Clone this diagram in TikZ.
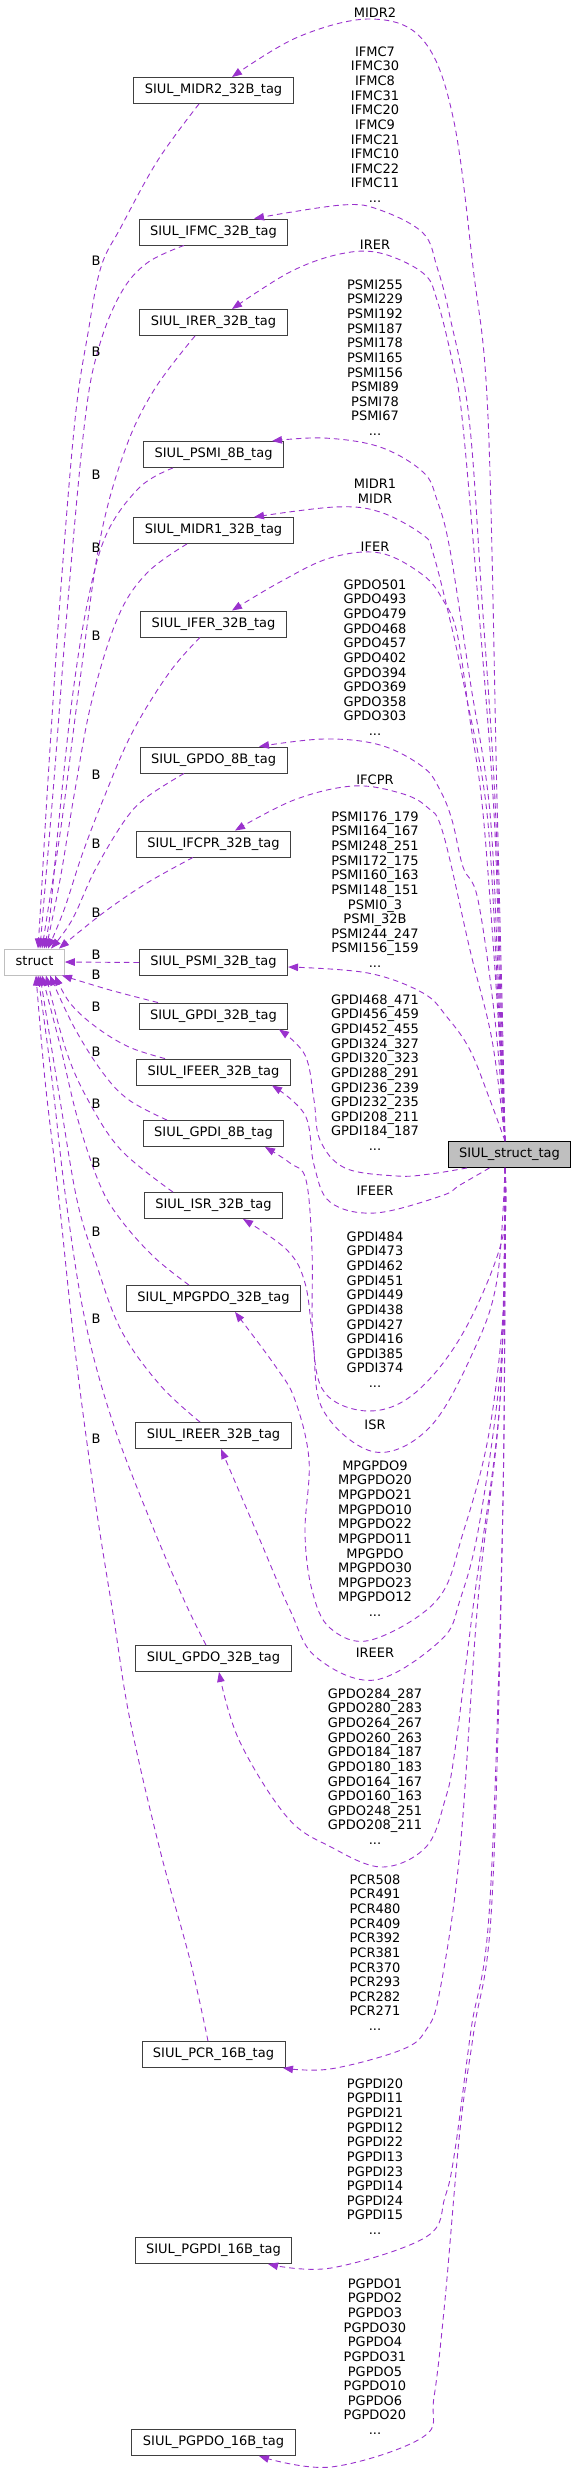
\documentclass[tikz,border=0pt]{standalone}
\usepackage{fontspec}
\setmainfont{DejaVu Sans}
\usetikzlibrary{arrows.meta,calc}
\definecolor{edgec}{HTML}{9A32CD}
\definecolor{boxline}{HTML}{404040}
\definecolor{lightline}{HTML}{BFBFBF}
\definecolor{mainfill}{HTML}{BFBFBF}
\begin{document}
\begin{tikzpicture}[x=1pt,y=-1pt,
  box/.style={draw=boxline,line width=0.9pt,fill=white,inner xsep=11pt,inner ysep=0pt,minimum height=26pt,text height=9.5pt,text depth=3pt,font=\fontsize{13}{14.65}\selectfont},
  structbox/.style={box,draw=lightline},
  mainbox/.style={box,draw=black,fill=mainfill},
  elabel/.style={font=\fontsize{13}{14.65}\selectfont,align=center,inner sep=0pt,anchor=north},
  blabel/.style={font=\fontsize{13}{14.65}\selectfont,inner sep=0pt,text height=9.5pt,text depth=0pt},
  edge/.style={draw=edgec,line width=0.9pt,dash pattern=on 5.5pt off 4pt,-{Triangle[length=10pt,width=7.5pt]}},
  sm/.style={smooth,tension=0.6}]
\useasboundingbox (0,0) rectangle (575,2473);

% nodes
\node[box] (midr2) at (213.5,90.5) {SIUL\_MIDR2\_32B\_tag};
\node[box] (ifmc) at (213.5,232) {SIUL\_IFMC\_32B\_tag};
\node[box] (irer) at (213.5,322.5) {SIUL\_IRER\_32B\_tag};
\node[box] (psmi8) at (213.5,454.5) {SIUL\_PSMI\_8B\_tag};
\node[box] (midr1) at (213.5,530.5) {SIUL\_MIDR1\_32B\_tag};
\node[box] (ifer) at (213.5,624) {SIUL\_IFER\_32B\_tag};
\node[box] (gpdo8) at (213.5,760) {SIUL\_GPDO\_8B\_tag};
\node[box] (ifcpr) at (213.5,844) {SIUL\_IFCPR\_32B\_tag};
\node[box] (psmi32) at (213.5,962.5) {SIUL\_PSMI\_32B\_tag};
\node[box] (gpdi32) at (213.5,1016) {SIUL\_GPDI\_32B\_tag};
\node[box] (ifeer) at (213.5,1072) {SIUL\_IFEER\_32B\_tag};
\node[box] (gpdi8) at (213.5,1133.5) {SIUL\_GPDI\_8B\_tag};
\node[box] (isr) at (213.5,1205.5) {SIUL\_ISR\_32B\_tag};
\node[box] (mpgpdo) at (213.5,1298.5) {SIUL\_MPGPDO\_32B\_tag};
\node[box] (ireer) at (213.5,1435.5) {SIUL\_IREER\_32B\_tag};
\node[box] (gpdo32) at (213.5,1658.5) {SIUL\_GPDO\_32B\_tag};
\node[box] (pcr) at (213.5,2054.5) {SIUL\_PCR\_16B\_tag};
\node[box] (pgpdi) at (213.5,2250.5) {SIUL\_PGPDI\_16B\_tag};
\node[box] (pgpdo) at (213.5,2442.5) {SIUL\_PGPDO\_16B\_tag};
\node[structbox] (struct) at (34.5,962) {struct};
\node[mainbox] (S) at (509.5,1154.5) {SIUL\_struct\_tag};

% edges to struct (B)
\draw[edge] plot[sm] coordinates {([xshift=-14.5pt]midr2.south) (158,160) (121,227) (101,267) (88,333) (75,420) (60,600) (48,780) (41,900) ([xshift=3.5pt]struct.north)};
\draw[edge] plot[sm] coordinates {([xshift=-29.5pt]ifmc.south) (147,263) (121,293) (99,347) (85,420) (68,600) (54,780) (44,900) ([xshift=5.5pt]struct.north)};
\draw[edge] plot[sm] coordinates {([xshift=-18.5pt]irer.south) (154,390) (125,450) (100,540) (80,680) (62,820) (48,910) ([xshift=7.5pt]struct.north)};
\draw[edge] plot[sm] coordinates {([xshift=-40.5pt]psmi8.south) (140,487) (107,533) (88,600) (72,700) (58,830) (50,915) ([xshift=9.5pt]struct.north)};
\draw[edge] plot[sm] coordinates {([xshift=-26.5pt]midr1.south) (147,573) (118,617) (92,700) (75,790) (60,880) ([xshift=11.5pt]struct.north)};
\draw[edge] plot[sm] coordinates {([xshift=-13.5pt]ifer.south) (169,673) (132,733) (103,800) (82,855) (64,910) ([xshift=13.5pt]struct.north)};
\draw[edge] plot[sm] coordinates {([xshift=-29.5pt]gpdo8.south) (147,797) (125,820) (95,870) (72,920) ([xshift=16.5pt]struct.north)};
\draw[edge] plot[sm] coordinates {([xshift=-20.5pt]ifcpr.south) (147,883) (103,913) ([xshift=24.5pt]struct.north)};
\draw[edge] (psmi32.west) -- (struct.east);
\draw[edge] plot[sm] coordinates {([xshift=-55.5pt]gpdi32.north) (110,990) ([xshift=27.5pt]struct.south)};
\draw[edge] plot[sm] coordinates {([xshift=-48.5pt]ifeer.north) (129,1047) (96,1027) (70,1003) ([xshift=20.5pt]struct.south)};
\draw[edge] plot[sm] coordinates {([xshift=-46.5pt]gpdi8.north) (129,1100) (103,1073) (74,1027) ([xshift=15.5pt]struct.south)};
\draw[edge] plot[sm] coordinates {([xshift=-40.5pt]isr.north) (121,1150) (88,1100) (66,1050) ([xshift=11.5pt]struct.south)};
\draw[edge] plot[sm] coordinates {([xshift=-24.5pt]mpgpdo.north) (154,1257) (121,1220) (100,1185) (78,1120) (60,1045) ([xshift=7.5pt]struct.south)};
\draw[edge] plot[sm] coordinates {([xshift=-13.5pt]ireer.north) (160,1385) (121,1330) (95,1260) (77,1200) (60,1100) ([xshift=5.5pt]struct.south)};
\draw[edge] plot[sm] coordinates {([xshift=-7.5pt]gpdo32.north) (184,1600) (150,1520) (112,1420) (85,1320) (66,1200) (52,1080) ([xshift=3.5pt]struct.south)};
\draw[edge] plot[sm] coordinates {([xshift=-5.5pt]pcr.north) (190,1960) (160,1850) (130,1720) (114,1620) (95,1500) (75,1350) (59,1200) (45,1080) ([xshift=1.5pt]struct.south)};

% B labels
\foreach \y [count=\i] in {261,352,475,548,636,775,844,913,955,975,1007,1052,1104,1163,1232,1319,1439}
  \node[blabel] (b\i) at (96,\y) {B};

% edges from SIUL_struct_tag upward
\draw[edge] plot[sm] coordinates {([xshift=-4.5pt]S.north) (502,1000) (497,800) (488,417) (473,267) (453,117) (423,40) (371,19) (298,37) ([xshift=18.5pt]midr2.north)};
\draw[edge] plot[sm] coordinates {([xshift=-4.5pt]S.north) (501,1000) (495,800) (482,600) (469,418) (450,317) (437,267) (423,233) (380,210) (342,205) ([xshift=40.5pt]ifmc.north)};
\draw[edge] plot[sm] coordinates {([xshift=-4.5pt]S.north) (500,1000) (494,813) (478,600) (462,417) (452,360) (437,300) (423,273) (380,253) (340,254) (290,272) ([xshift=18.5pt]irer.north)};
\draw[edge] plot[sm] coordinates {([xshift=-4.5pt]S.north) (499,1000) (490,813) (470,680) (450,550) (437,500) (423,472) (380,447) (324,438) ([xshift=58.5pt]psmi8.north)};
\draw[edge] plot[sm] coordinates {([xshift=-4.5pt]S.north) (498,1000) (487,813) (465,690) (450,620) (433,553) (423,535) (380,512) (335,507) ([xshift=40.5pt]midr1.north)};
\draw[edge] plot[sm] coordinates {([xshift=-4.5pt]S.north) (497,1000) (483,813) (470,720) (457,633) (443,600) (423,575) (380,553) (330,558) (280,582) ([xshift=18.5pt]ifer.north)};
\draw[edge] plot[sm] coordinates {([xshift=-4.5pt]S.north) (495,1020) (478,900) (463,867) (452,820) (440,790) (423,767) (380,745) (324,739) ([xshift=45.5pt]gpdo8.north)};
\draw[edge] plot[sm] coordinates {([xshift=-4.5pt]S.north) (492,1040) (470,950) (443,833) (427,807) (400,793) (353,786) (294,800) ([xshift=21.5pt]ifcpr.north)};
\draw[edge] plot[sm] coordinates {([xshift=-4.5pt]S.north) (490,1100) (470,1050) (447,1017) (423,993) (368,973) ([yshift=-4.5pt]psmi32.east)};

% edges from SIUL_struct_tag downward
\draw[edge] plot[sm] coordinates {([xshift=-42.5pt]S.south) (430,1174) (397,1176) (345,1168) (320,1140) (314,1100) (305,1055) ([xshift=65.5pt]gpdi32.south)};
\draw[edge] plot[sm] coordinates {([xshift=-20pt]S.south) (460,1185) (441,1196) (375,1213) (330,1202) (314,1165) (305,1115) ([xshift=58.5pt]ifeer.south)};
\draw[edge] plot[sm] coordinates {([xshift=-4.5pt]S.south) (502,1240) (463,1333) (415,1393) (369,1411) (325,1393) (313,1340) (312,1250) (306,1180) (290,1163) ([xshift=51.5pt]gpdi8.south)};
\draw[edge] plot[sm] coordinates {([xshift=-4.5pt]S.south) (497,1280) (474,1350) (430,1427) (375,1452) (323,1410) (313,1340) (305,1283) (287,1250) ([xshift=29.5pt]isr.south)};
\draw[edge] plot[sm] coordinates {([xshift=-4.5pt]S.south) (504,1300) (489,1433) (463,1533) (437,1600) (371,1640) (330,1628) (312,1590) (305,1533) (309,1460) (295,1400) (276,1367) ([xshift=21.5pt]mpgpdo.south)};
\draw[edge] plot[sm] coordinates {([xshift=-4.5pt]S.south) (502,1350) (480,1520) (460,1600) (441,1640) (375,1680) (316,1657) (290,1610) (257,1533) ([xshift=7.5pt]ireer.south)};
\draw[edge] plot[sm] coordinates {([xshift=-4.5pt]S.south) (500,1400) (474,1600) (455,1750) (445,1800) (426,1847) (382,1867) (331,1847) (287,1817) (239,1740) ([xshift=5.5pt]gpdo32.south)};
\draw[edge] plot[sm] coordinates {([xshift=-4.5pt]S.south) (500,1400) (478,1600) (460,1850) (440,1990) (426,2030) (401,2050) (330,2069) ([xshift=69.5pt]pcr.south)};
\draw[edge] plot[sm] coordinates {([xshift=-4.5pt]S.south) (503,1500) (490,1900) (471,2030) (455,2150) (445,2197) (426,2237) (331,2268) ([xshift=54.5pt]pgpdi.south)};
\draw[edge] plot[sm] coordinates {([xshift=-4.5pt]S.south) (503,1500) (492,1900) (474,2030) (460,2130) (445,2300) (434,2397) (423,2437) (331,2467) ([xshift=45.5pt]pgpdo.south)};

% edge labels
\node[elabel] (l1) at (375,7.25) {MIDR2};
\node[elabel] (l2) at (375,46.25) {IFMC7\\IFMC30\\IFMC8\\IFMC31\\IFMC20\\IFMC9\\IFMC21\\IFMC10\\IFMC22\\IFMC11\\...};
\node[elabel] (l3) at (375,240.25) {IRER};
\node[elabel] (l4) at (375,279.25) {PSMI255\\PSMI229\\PSMI192\\PSMI187\\PSMI178\\PSMI165\\PSMI156\\PSMI89\\PSMI78\\PSMI67\\...};
\node[elabel] (l5) at (375,479.25) {MIDR1\\MIDR};
\node[elabel] (l6) at (375,542.25) {IFER};
\node[elabel] (l7) at (375,579.25) {GPDO501\\GPDO493\\GPDO479\\GPDO468\\GPDO457\\GPDO402\\GPDO394\\GPDO369\\GPDO358\\GPDO303\\...};
\node[elabel] (l8) at (375,774.25) {IFCPR};
\node[elabel] (l9) at (375,811.25) {PSMI176\_179\\PSMI164\_167\\PSMI248\_251\\PSMI172\_175\\PSMI160\_163\\PSMI148\_151\\PSMI0\_3\\PSMI\_32B\\PSMI244\_247\\PSMI156\_159\\...};
\node[elabel] (l10) at (375,994.25) {GPDI468\_471\\GPDI456\_459\\GPDI452\_455\\GPDI324\_327\\GPDI320\_323\\GPDI288\_291\\GPDI236\_239\\GPDI232\_235\\GPDI208\_211\\GPDI184\_187\\...};
\node[elabel] (l11) at (375,1186.25) {IFEER};
\node[elabel] (l12) at (375,1231.25) {GPDI484\\GPDI473\\GPDI462\\GPDI451\\GPDI449\\GPDI438\\GPDI427\\GPDI416\\GPDI385\\GPDI374\\...};
\node[elabel] (l13) at (375,1419.25) {ISR};
\node[elabel] (l14) at (375,1460.25) {MPGPDO9\\MPGPDO20\\MPGPDO21\\MPGPDO10\\MPGPDO22\\MPGPDO11\\MPGPDO\\MPGPDO30\\MPGPDO23\\MPGPDO12\\...};
\node[elabel] (l15) at (375,1648.25) {IREER};
\node[elabel] (l16) at (375,1688.25) {GPDO284\_287\\GPDO280\_283\\GPDO264\_267\\GPDO260\_263\\GPDO184\_187\\GPDO180\_183\\GPDO164\_167\\GPDO160\_163\\GPDO248\_251\\GPDO208\_211\\...};
\node[elabel] (l17) at (375,1874.25) {PCR508\\PCR491\\PCR480\\PCR409\\PCR392\\PCR381\\PCR370\\PCR293\\PCR282\\PCR271\\...};
\node[elabel] (l18) at (375,2078.25) {PGPDI20\\PGPDI11\\PGPDI21\\PGPDI12\\PGPDI22\\PGPDI13\\PGPDI23\\PGPDI14\\PGPDI24\\PGPDI15\\...};
\node[elabel] (l19) at (375,2278.25) {PGPDO1\\PGPDO2\\PGPDO3\\PGPDO30\\PGPDO4\\PGPDO31\\PGPDO5\\PGPDO10\\PGPDO6\\PGPDO20\\...};
\end{tikzpicture}
\end{document}
